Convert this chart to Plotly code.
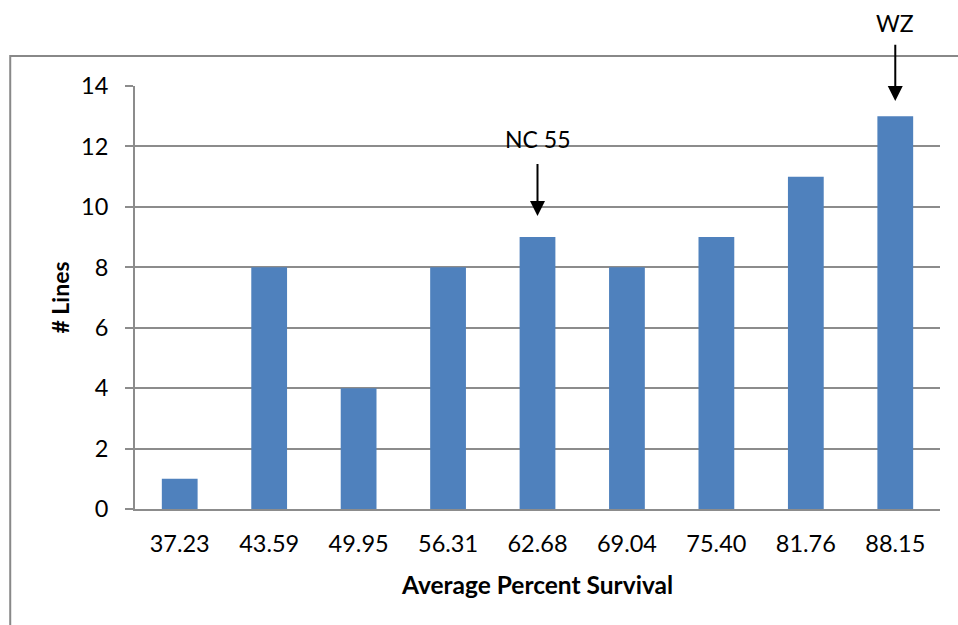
import plotly.graph_objects as go

categories = ["37.23", "43.59", "49.95", "56.31", "62.68", "69.04", "75.40", "81.76", "88.15"]
lines_count = [1, 8, 4, 8, 9, 8, 9, 11, 13]
y_ticks = [0, 2, 4, 6, 8, 10, 12, 14]
annot_labels = ["NC 55", "WZ"]
annot_cats = ["62.68", "88.15"]

FONT = "Lato, Calibri, Carlito, sans-serif"
GRID = "#8c8c8c"

fig = go.Figure()
fig.add_trace(go.Bar(
    x=categories, y=lines_count,
    marker=dict(color="#4F81BD", line=dict(width=0)),
    width=0.4,
))

# annotations (arrows + labels)
arrow_specs = {"NC 55": (11.45, 9.7, 12.25), "WZ": (15.4, 13.5, 16.1)}
for lab, cat in zip(annot_labels, annot_cats):
    tail, tip, ty = arrow_specs[lab]
    xi = categories.index(cat)
    fig.add_annotation(x=xi, y=tip, ax=xi, ay=tail, xref="x", yref="y", axref="x", ayref="y",
                       text=" ", font=dict(size=1), borderpad=0,
                       showarrow=True, arrowhead=2, arrowsize=1.5, arrowwidth=2,
                       arrowcolor="black")
    fig.add_annotation(x=xi, y=ty / 14, xref="x", yref="paper", xanchor="center", yanchor="middle",
                       text=lab, showarrow=False,
                       font=dict(family=FONT, size=23, color="black"))

# outer chart border (cropped)
fig.add_shape(type="rect", xref="paper", yref="paper",
              x0=-0.155, x1=1.2, y0=-0.5, y1=1.071,
              line=dict(color="#888888", width=2), fillcolor="rgba(0,0,0,0)", layer="below")

fig.update_layout(
    width=958, height=625,
    margin=dict(l=135, r=18, t=86, b=116),
    plot_bgcolor="white", paper_bgcolor="white",
    showlegend=False,
    font=dict(family=FONT, size=23, color="black"),
    bargap=0.6,
)
fig.update_xaxes(
    type="category", range=[-0.5, 8.5], autorange=False,
    showline=True, linecolor=GRID, linewidth=2,
    showgrid=False, ticks="", ticklabelstandoff=13, tickangle=0,
    tickfont=dict(family=FONT, size=23.5),
    title=dict(text="<b>Average Percent Survival</b>", font=dict(family=FONT, size=24.5), standoff=21),
)
fig.update_yaxes(
    range=[0, 14], tickvals=y_ticks,
    showline=True, linecolor=GRID, linewidth=2,
    showgrid=True, gridcolor=GRID, gridwidth=1.5,
    ticks="outside", ticklen=8, tickcolor=GRID, tickwidth=1.5,
    ticklabelstandoff=12,
    tickfont=dict(family=FONT, size=23.5),
    zeroline=False,
    title=dict(text="<b># Lines</b>", font=dict(family=FONT, size=23), standoff=5),
)

fig.write_html("out.html")
